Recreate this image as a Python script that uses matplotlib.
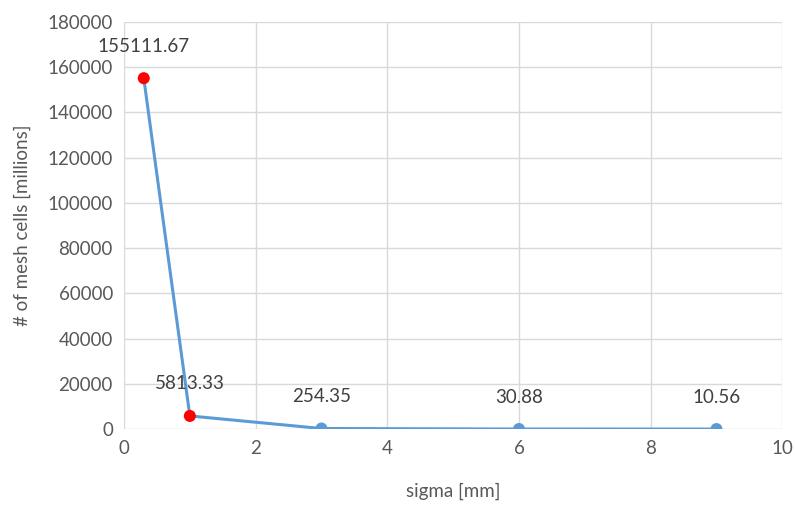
import numpy as np
import matplotlib.pyplot as plt

plt.rcParams['font.family'] = ['Lato', 'DejaVu Sans']

sigma = [0.3, 1, 3, 6, 9]
cells = [155111.67, 5813.33, 254.35, 30.88, 10.56]
labels = ["155111.67", "5813.33", "254.35", "30.88", "10.56"]
marker_colors = ["#FF0000", "#FF0000", "#5B9BD5", "#5B9BD5", "#5B9BD5"]

txt = "#595959"
grid = "#D9D9D9"

fig = plt.figure(figsize=(7.95, 5.09), dpi=100)
ax = fig.add_axes([0.156, 0.157, 0.828, 0.8])

ax.plot(sigma, cells, color="#5B9BD5", lw=2.2, zorder=3)
ax.scatter(sigma, cells, s=75, c=marker_colors, zorder=4, edgecolors="none")

for x, y, lab in zip(sigma, cells, labels):
    ax.annotate(lab, (x, y), xytext=(0, 23), textcoords="offset points",
                ha="center", va="center", fontsize=13.5, color="#404040")

ax.set_xlim(0, 10)
ax.set_ylim(0, 180000)
ax.set_xticks(np.arange(0, 11, 2))
ax.set_yticks(np.arange(0, 180001, 20000))
ax.grid(True, color=grid, lw=1)
ax.set_axisbelow(True)
for s in ax.spines.values():
    s.set_visible(False)
ax.tick_params(length=0, labelsize=13.5, colors=txt, pad=8)

ax.set_xlabel("sigma [mm]", fontsize=13.5, color=txt, labelpad=18)
ax.set_ylabel("# of mesh cells [millions]", fontsize=13.5, color=txt, labelpad=12)

fig.savefig("out.png", dpi=100)
